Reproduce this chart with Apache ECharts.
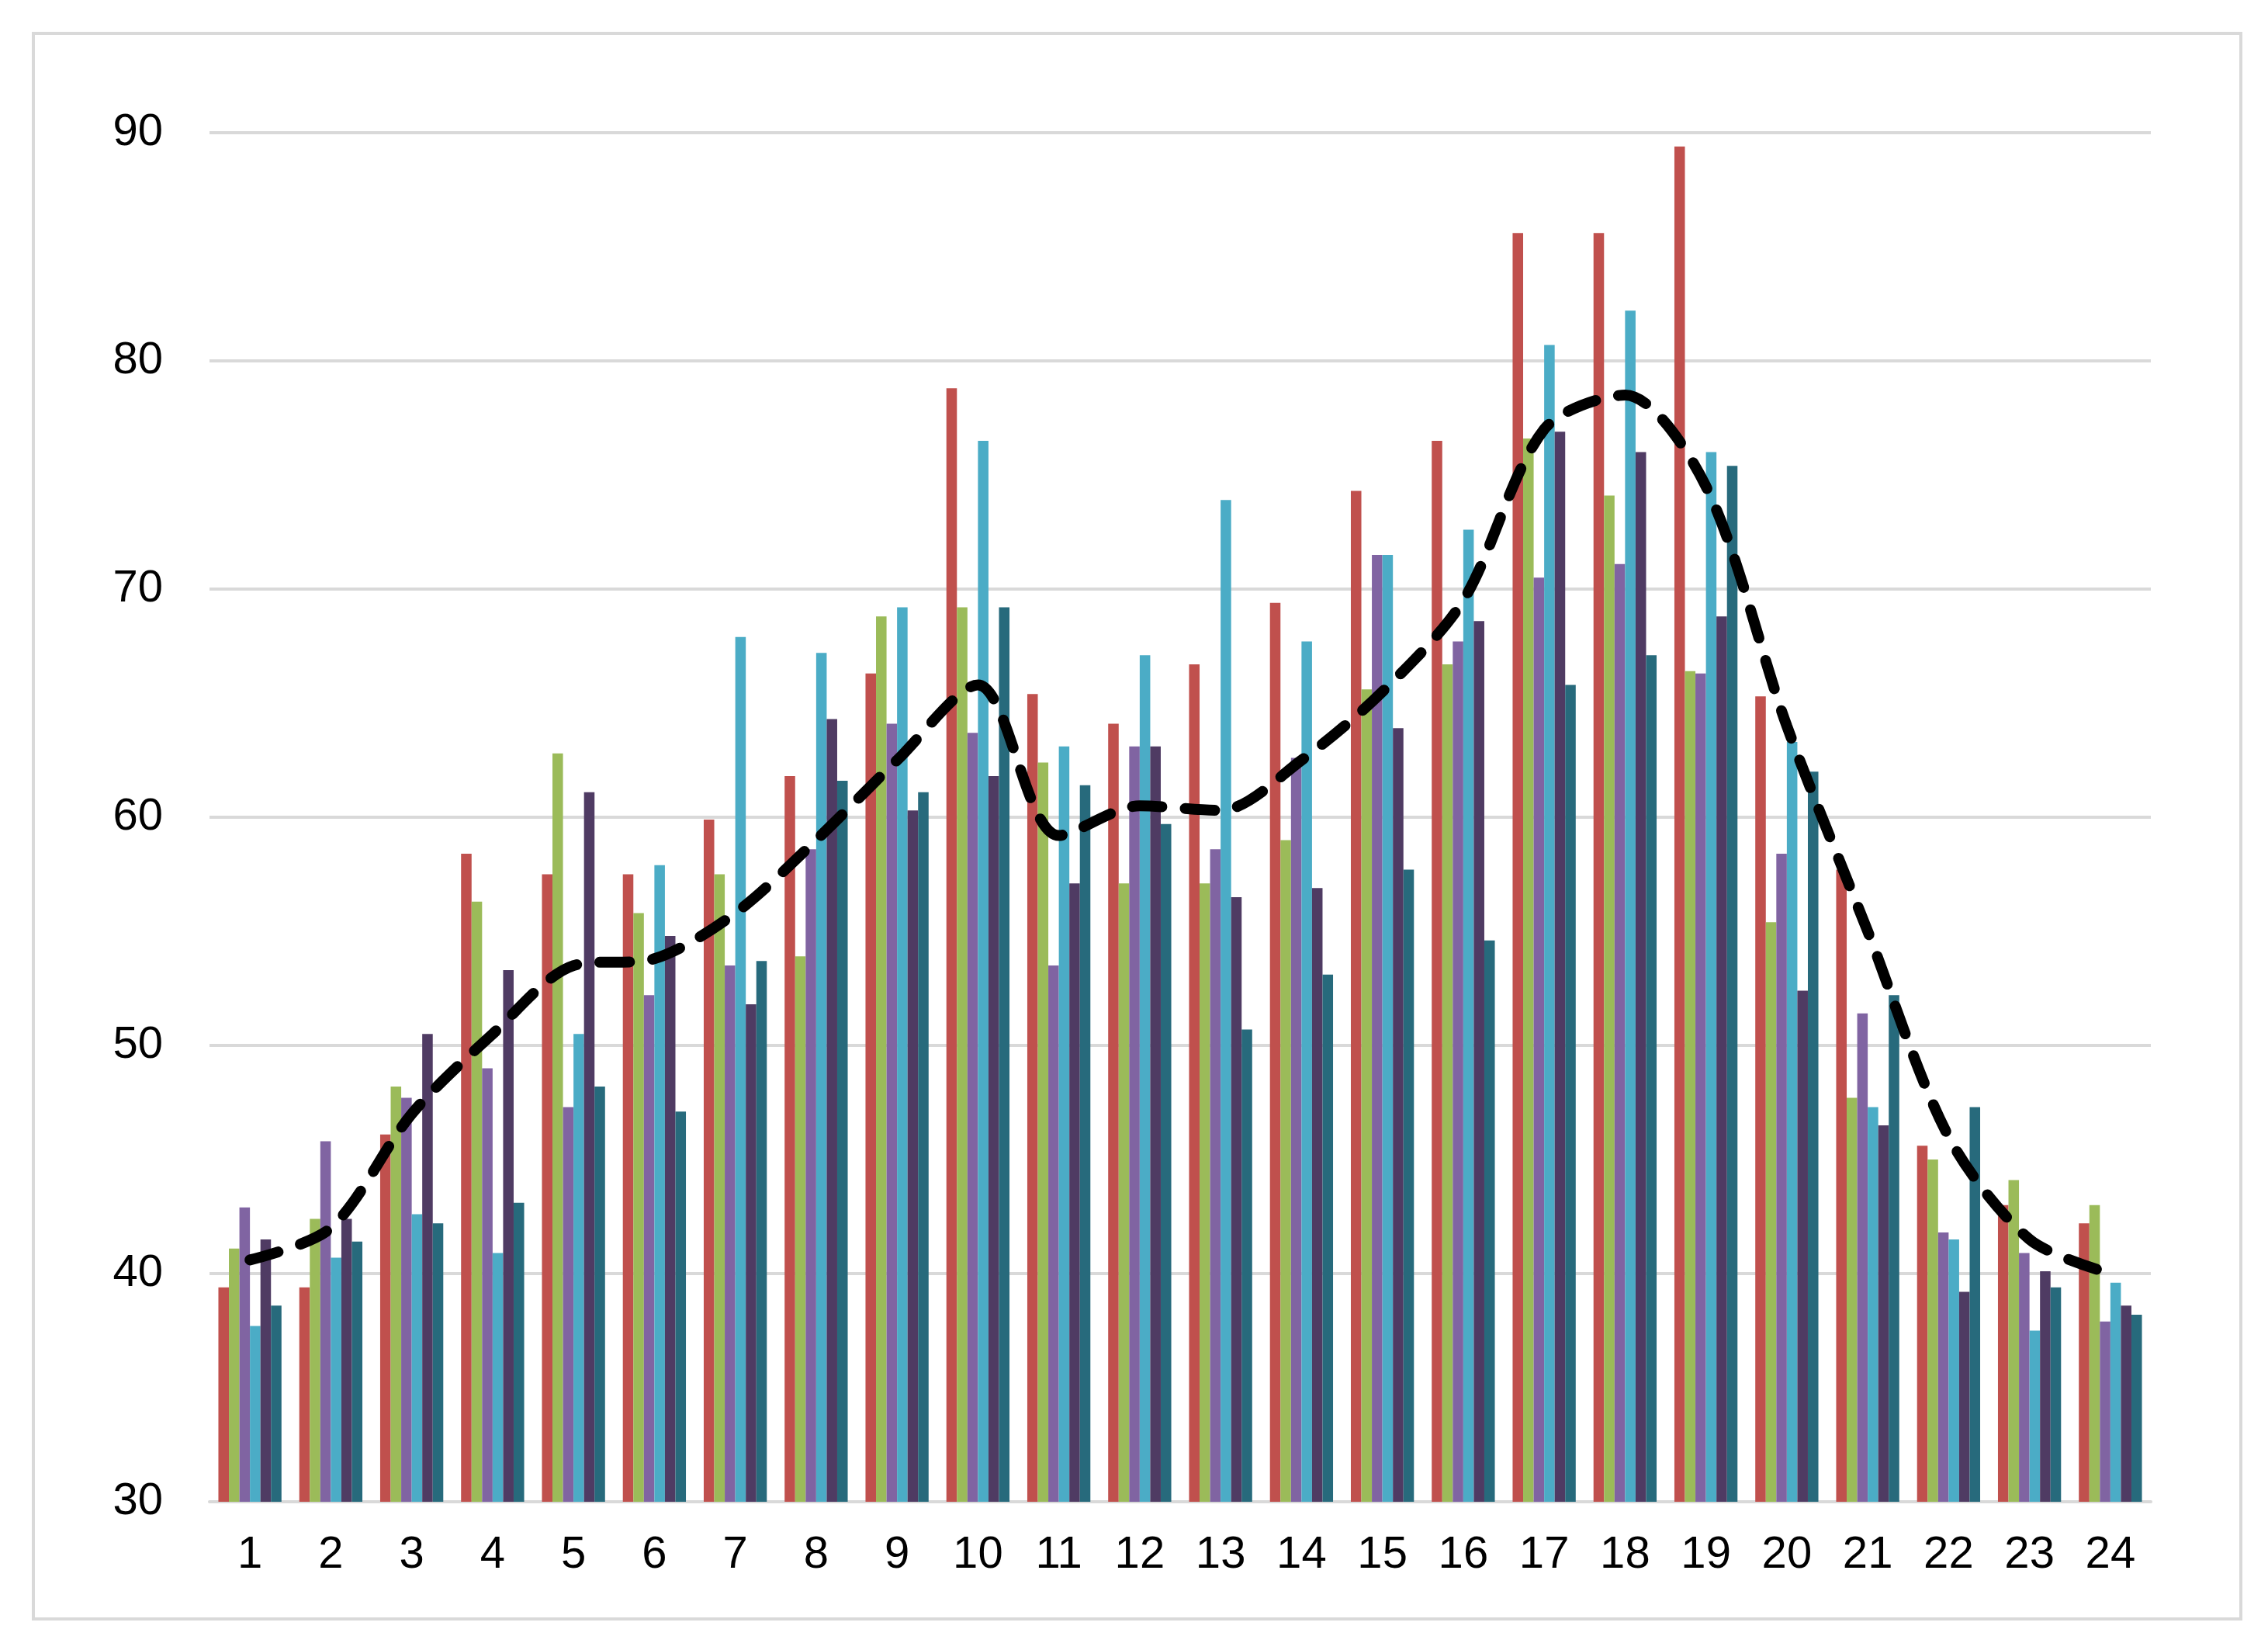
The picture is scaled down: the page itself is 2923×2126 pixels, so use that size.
<!DOCTYPE html>
<html>
<head>
<meta charset="utf-8">
<script src="https://cdn.jsdelivr.net/npm/echarts@6/dist/echarts.min.js"></script>
<style>
html,body{margin:0;padding:0;background:#fff;}
#box{position:absolute;left:41px;top:41px;width:2841px;height:2039px;border:4px solid #d9d9d9;}
#chart{position:absolute;left:0;top:0;width:2923px;height:2126px;}
</style>
</head>
<body>
<div id="box"></div>
<div id="chart"></div>
<script>
var categories = ['1','2','3','4','5','6','7','8','9','10','11','12','13','14','15','16','17','18','19','20','21','22','23','24'];
var s1 = [39.4,39.4,46.1,58.4,57.5,57.5,59.9,61.8,66.3,78.8,65.4,64.1,66.7,69.4,74.3,76.5,85.6,85.6,89.4,65.3,57.7,45.6,43.0,42.2];
var s2 = [41.1,42.4,48.2,56.3,62.8,55.8,57.5,53.9,68.8,69.2,62.4,57.1,57.1,59.0,65.6,66.7,76.6,74.1,66.4,55.4,47.7,45.0,44.1,43.0];
var s3 = [42.9,45.8,47.7,49.0,47.3,52.2,53.5,58.6,64.1,63.7,53.5,63.1,58.6,62.6,71.5,67.7,70.5,71.1,66.3,58.4,51.4,41.8,40.9,37.9];
var s4 = [37.7,40.7,42.6,40.9,50.5,57.9,67.9,67.2,69.2,76.5,63.1,67.1,73.9,67.7,71.5,72.6,80.7,82.2,76.0,63.3,47.3,41.5,37.5,39.6];
var s5 = [41.5,42.4,50.5,53.3,61.1,54.8,51.8,64.3,60.3,61.8,57.1,63.1,56.5,56.9,63.9,68.6,76.9,76.0,68.8,52.4,46.5,39.2,40.1,38.6];
var s6 = [38.6,41.4,42.2,43.1,48.2,47.1,53.7,61.6,61.1,69.2,61.4,59.7,50.7,53.1,57.7,54.6,65.8,67.1,75.4,62.0,52.2,47.3,39.4,38.2];
var trend = [40.6,42.0,47.0,50.5,53.5,53.8,55.8,59.0,62.5,65.8,59.2,60.5,60.3,62.5,65.5,69.5,77.0,78.5,74.5,64.0,55.0,46.0,41.5,40.0];
var colors = ['#C0504D','#9BBB59','#8064A2','#4BACC6','#4F3B63','#276A7C'];

var chart = echarts.init(document.getElementById('chart'));
var bars = [s1,s2,s3,s4,s5,s6].map(function(d,i){
    return {type:'bar', data:d, barGap:'0%', barCategoryGap:'22%', itemStyle:{color:colors[i]}, z:2};
});
bars.push({
    type:'line', data:trend, smooth:0.3, symbol:'none', z:5,
    lineStyle:{color:'#000', width:14, type:[38,30], cap:'round'}
});
chart.setOption({
    animation:false,
    grid:{left:270, right:151, top:171, bottom:191},
    xAxis:{
        type:'category', data:categories,
        axisLine:{lineStyle:{color:'#d9d9d9', width:4}},
        axisTick:{show:false},
        axisLabel:{color:'#000', fontSize:58, fontFamily:'Liberation Sans', margin:40}
    },
    yAxis:{
        type:'value', min:30, max:90, interval:10,
        axisLine:{show:false}, axisTick:{show:false},
        splitLine:{lineStyle:{color:'#d9d9d9', width:4}},
        axisLabel:{color:'#000', fontSize:58, fontFamily:'Liberation Sans', margin:60}
    },
    series:bars
});
</script>
</body>
</html>
